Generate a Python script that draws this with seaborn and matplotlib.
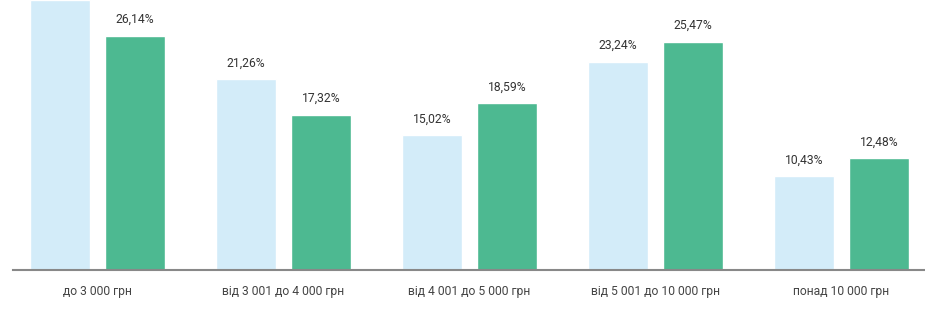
import matplotlib
matplotlib.use("Agg")
import matplotlib.pyplot as plt
import seaborn as sns
import pandas as pd

categories = ["до 3 000 грн", "від 3 001 до 4 000 грн", "від 4 001 до 5 000 грн",
              "від 5 001 до 10 000 грн", "понад 10 000 грн"]
series_a = [30.05, 21.26, 15.02, 23.24, 10.43]
series_b = [26.14, 17.32, 18.59, 25.47, 12.48]
series_names = ["Серія 1", "Серія 2"]
colors = ["#D3ECF9", "#4DB991"]

df = pd.DataFrame({
    "cat": categories * 2,
    "val": series_a + series_b,
    "series": [series_names[0]] * len(categories) + [series_names[1]] * len(categories),
})

sns.set_style("white")
plt.rcParams["font.family"] = ["Roboto", "DejaVu Sans"]

YMAX = 30.1

fig = plt.figure(figsize=(9.25, 3.31), dpi=100)
ax = fig.add_axes([13 / 925, 61 / 331, 912 / 925, 270 / 331])
sns.barplot(data=df, x="cat", y="val", hue="series", palette=colors,
            width=0.806, gap=0.2, ax=ax, legend=False, saturation=1)

for cont in ax.containers:
    # labels of bars running past the top of the frame lie outside the picture
    labels = [(f"{v:.2f}".replace(".", ",") + "%") if v < YMAX - 2 else ""
              for v in cont.datavalues]
    ax.bar_label(cont, labels=labels, padding=7, fontsize=8.7, color="#333333")

ax.set_xlim(-0.455, 4.45)
ax.set_ylim(0, YMAX)
ax.set_xlabel("")
ax.set_ylabel("")
ax.set_yticks([])
for s in ["top", "right", "left"]:
    ax.spines[s].set_visible(False)
ax.spines["bottom"].set_color("#888888")
ax.spines["bottom"].set_linewidth(1.5)
ax.tick_params(axis="x", length=0, pad=11, labelsize=8.7, labelcolor="#444444")

fig.savefig("out.png", dpi=100)
